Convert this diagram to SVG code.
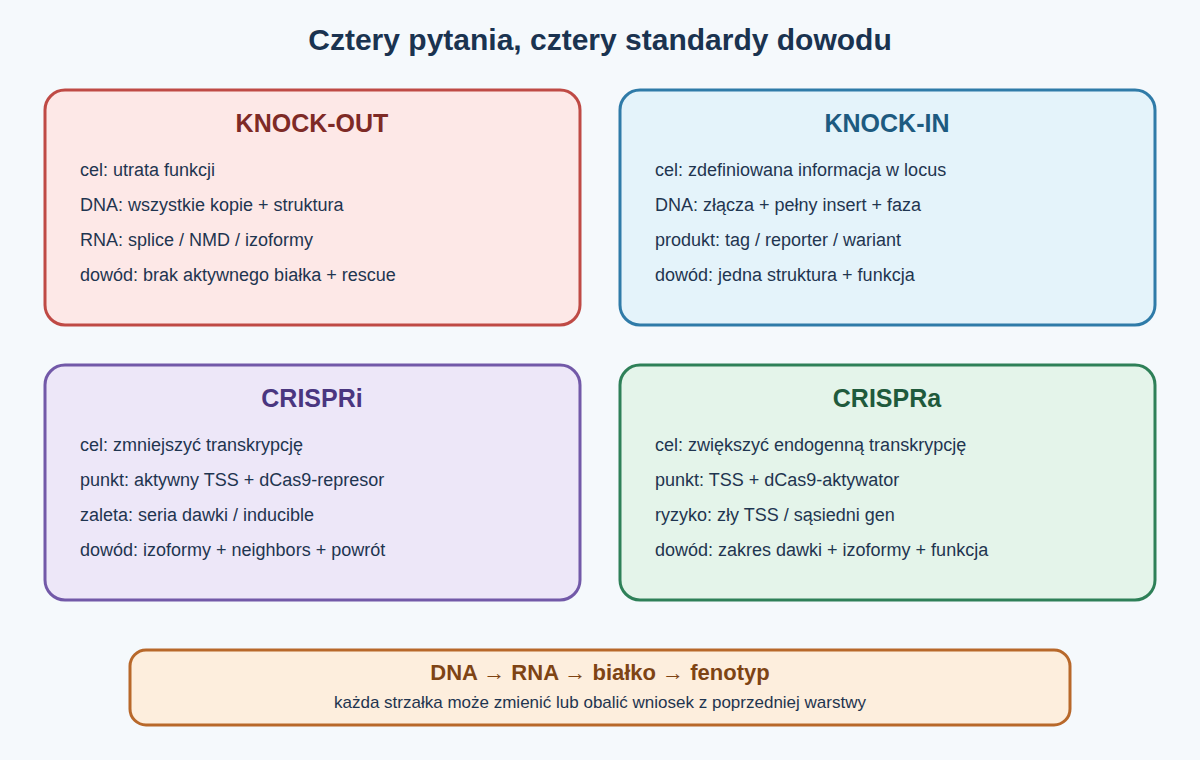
<svg xmlns="http://www.w3.org/2000/svg" width="1200" height="760" viewBox="0 0 1200 760">
<style>
text{font-family:"Liberation Sans",Arial,sans-serif}
.h{font-size:25px;font-weight:bold;text-anchor:middle}
.t{font-size:18px;fill:#1f3550}
.b{stroke-width:3}
</style>
<rect width="1200" height="760" fill="#f5f9fc"/>
<text x="600" y="50" class="h" style="font-size:30px" fill="#1a3350">Cztery pytania, cztery standardy dowodu</text>
<g id="ko">
<rect x="45" y="90" width="535" height="235" rx="20" fill="#fde8e7" stroke="#bf4a45" class="b"/>
<text x="312" y="132" class="h" fill="#7e2a26">KNOCK-OUT</text>
<text x="80" y="176" class="t">cel: utrata funkcji</text>
<text x="80" y="211" class="t">DNA: wszystkie kopie + struktura</text>
<text x="80" y="246" class="t">RNA: splice / NMD / izoformy</text>
<text x="80" y="281" class="t">dowód: brak aktywnego białka + rescue</text>
</g>
<g id="ki">
<rect x="620" y="90" width="535" height="235" rx="20" fill="#e4f3fa" stroke="#2f7ba8" class="b"/>
<text x="887" y="132" class="h" fill="#1d5a80">KNOCK-IN</text>
<text x="655" y="176" class="t">cel: zdefiniowana informacja w locus</text>
<text x="655" y="211" class="t">DNA: złącza + pełny insert + faza</text>
<text x="655" y="246" class="t">produkt: tag / reporter / wariant</text>
<text x="655" y="281" class="t">dowód: jedna struktura + funkcja</text>
</g>
<g id="ci">
<rect x="45" y="365" width="535" height="235" rx="20" fill="#ede7f8" stroke="#7259a8" class="b"/>
<text x="312" y="407" class="h" fill="#4a3680">CRISPRi</text>
<text x="80" y="451" class="t">cel: zmniejszyć transkrypcję</text>
<text x="80" y="486" class="t">punkt: aktywny TSS + dCas9-represor</text>
<text x="80" y="521" class="t">zaleta: seria dawki / inducible</text>
<text x="80" y="556" class="t">dowód: izoformy + neighbors + powrót</text>
</g>
<g id="ca">
<rect x="620" y="365" width="535" height="235" rx="20" fill="#e4f4ea" stroke="#2e8058" class="b"/>
<text x="887" y="407" class="h" fill="#1f5a3c">CRISPRa</text>
<text x="655" y="451" class="t">cel: zwiększyć endogenną transkrypcję</text>
<text x="655" y="486" class="t">punkt: TSS + dCas9-aktywator</text>
<text x="655" y="521" class="t">ryzyko: zły TSS / sąsiedni gen</text>
<text x="655" y="556" class="t">dowód: zakres dawki + izoformy + funkcja</text>
</g>
<g id="flow">
<rect x="130" y="650" width="940" height="75" rx="16" fill="#fdeedd" stroke="#b8682a" class="b"/>
<text x="600" y="680" class="h" style="font-size:22px" fill="#7e4414">DNA → RNA → białko → fenotyp</text>
<text x="600" y="708" style="font-size:17px;text-anchor:middle" fill="#1f3550">każda strzałka może zmienić lub obalić wniosek z poprzedniej warstwy</text>
</g>
<g id="connectors"/>
</svg>
